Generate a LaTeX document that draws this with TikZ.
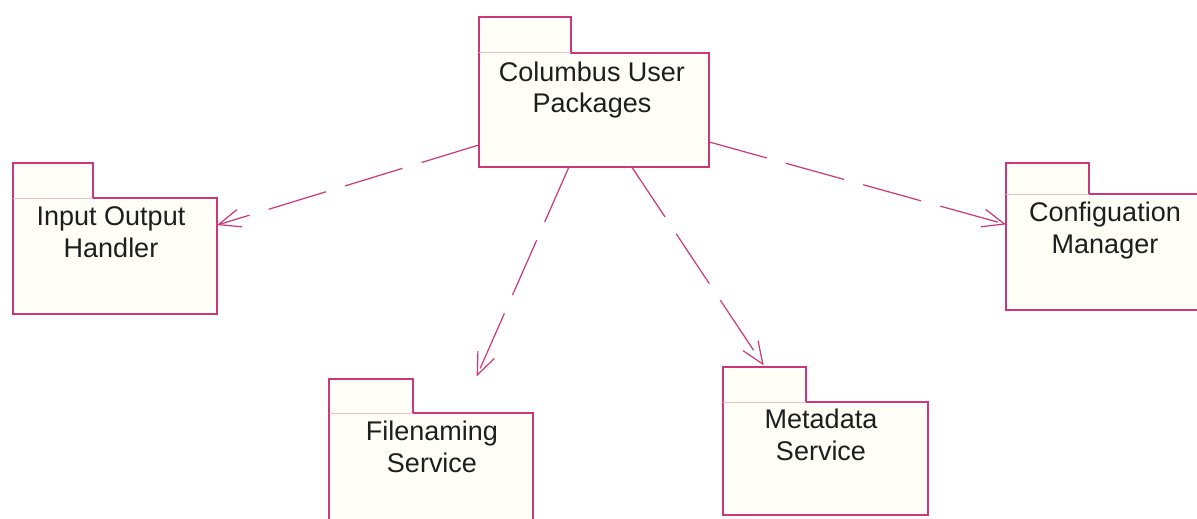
\documentclass[tikz,border=0pt]{standalone}
\usepackage{fontspec}
\setmainfont{Liberation Sans}
\usetikzlibrary{arrows.meta}
\definecolor{pline}{RGB}{205,55,120}
\definecolor{psep}{RGB}{235,190,200}
\definecolor{pfill}{RGB}{255,254,247}
\definecolor{ptext}{RGB}{30,30,30}
\tikzset{
  pkgline/.style={draw=pline, fill=pfill, line width=1.1pt, line join=miter},
  pkgsep/.style={draw=psep, line width=1pt},
  pkglabel/.style={font=\fontsize{27}{32}\selectfont, text=ptext, align=center, inner sep=0pt, anchor=base},
  dep/.style={draw=pline, line width=1.2pt, dash pattern=on 60pt off 20pt,
    -{Straight Barb[length=22pt, width=18pt, line width=1.2pt]}},
}
% #1 name, #2 left, #3 tab top, #4 tab right, #5 body top, #6 right, #7 bottom
\newcommand{\umlpkg}[7]{%
  \path[pkgline] (#2,#3) -- (#4,#3) -- (#4,#5) -- (#6,#5) -- (#6,#7) -- (#2,#7) -- cycle;
  \draw[pkgsep] (#2,#5) -- (#4,#5);
  \node[inner sep=0pt, outer sep=0pt, minimum width={(#6-#2)*1pt}, minimum height={(#7-#5)*1pt}]
    (#1) at ({(#2+#6)/2},{(#5+#7)/2}) {};
}
\begin{document}
\begin{tikzpicture}[x=1pt, y=-1pt]
  \useasboundingbox (0,0) rectangle (1197,519);
  \clip (0,0) rectangle (1197,519);
  \fill[white] (0,0) rectangle (1197,519);

  \umlpkg{col}{479}{17}{571}{53}{709}{167}
  \umlpkg{io}{13}{163}{93}{198}{217}{314}
  \umlpkg{cfg}{1006}{163}{1089}{194}{1205}{310}
  \umlpkg{fn}{329}{379}{413}{413}{533}{547}
  \umlpkg{md}{723}{367}{806}{402}{928}{515}

  % anchor=base refers to the last line's baseline
  \node[pkglabel] (colt) at (592,113) {Columbus User\\Packages};
  \node[pkglabel] (iot) at (111,257) {Input Output\\Handler};
  \node[pkglabel] (cfgt) at (1105,253) {Configuation\\Manager};
  \node[pkglabel] (fnt) at (432,472) {Filenaming\\Service};
  \node[pkglabel] (mdt) at (821,460) {Metadata\\Service};

  \draw[dep] (col) -- (io);
  \draw[dep] (col) -- (cfg);
  \draw[dep, shorten >=40pt] (col) -- (fn);
  \draw[dep, shorten >=44pt] (col) -- (md);
\end{tikzpicture}
\end{document}
